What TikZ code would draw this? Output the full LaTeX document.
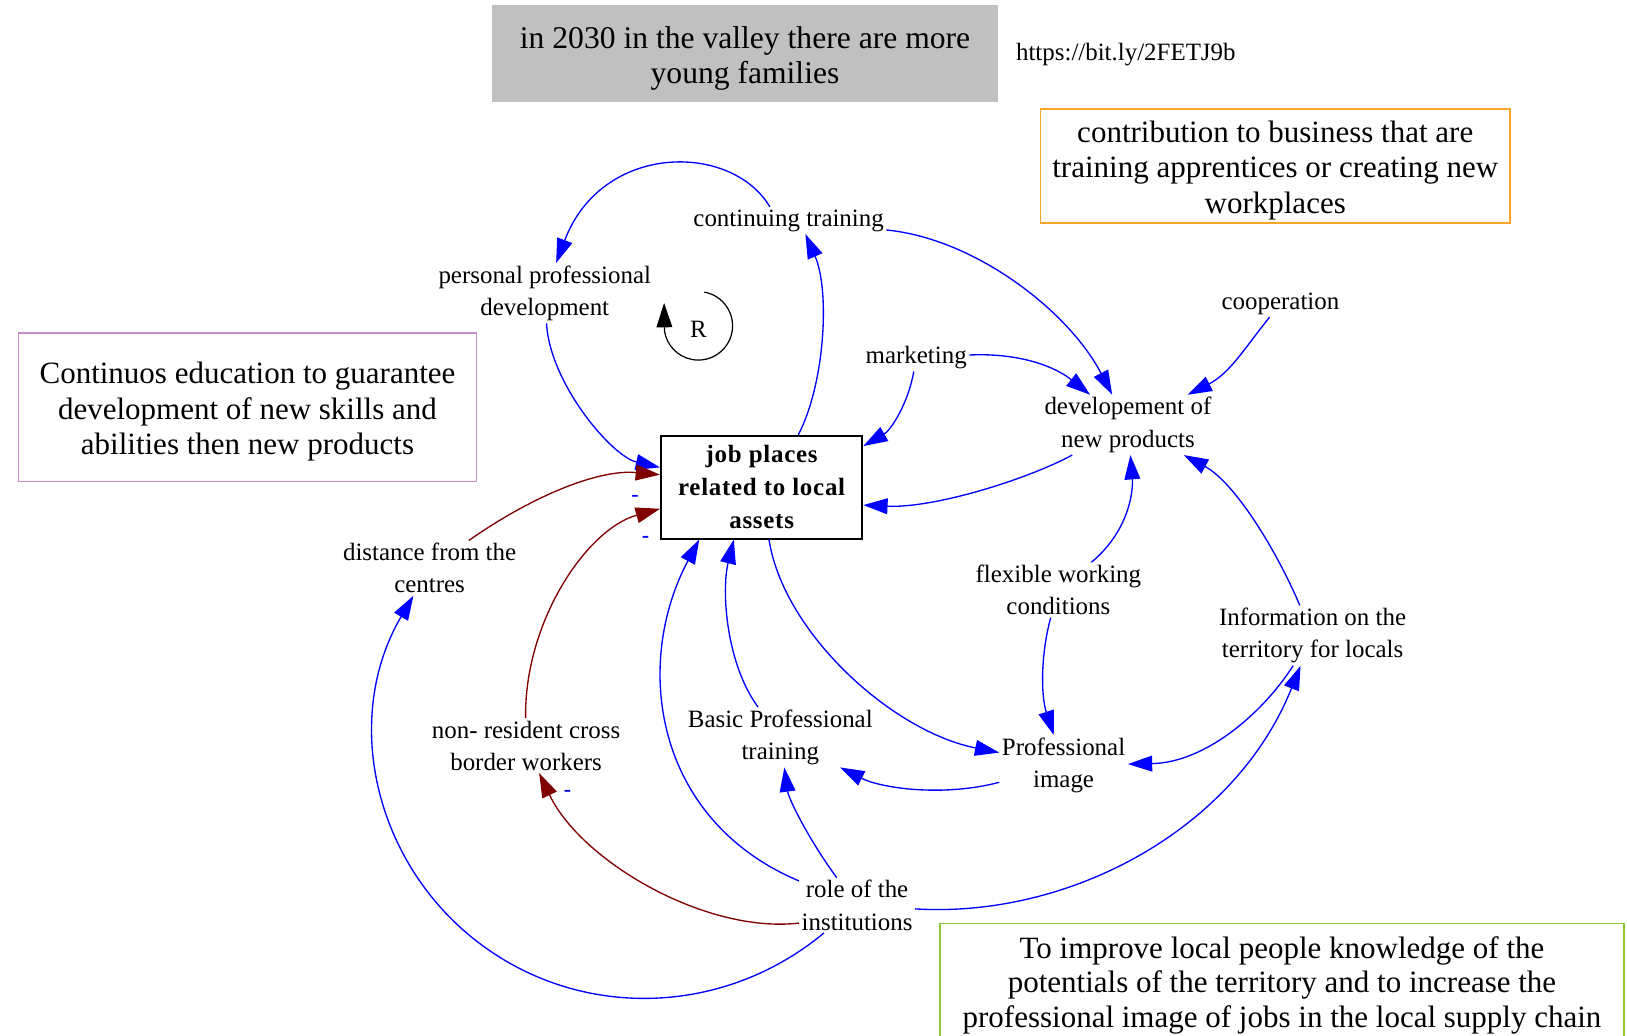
\documentclass[tikz,border=0pt]{standalone}
\usepackage{fontspec}
\setmainfont{Liberation Serif}
\newfontfamily\jobfont{Liberation Serif}[LetterSpace=3]
\usetikzlibrary{arrows.meta}
\definecolor{edgeblue}{RGB}{0,0,255}
\definecolor{edgebrown}{RGB}{128,0,0}
\definecolor{boxgray}{RGB}{192,192,192}
\definecolor{boxorange}{RGB}{250,165,40}
\definecolor{boxpurple}{RGB}{200,140,200}
\definecolor{boxgreen}{RGB}{140,200,50}
\begin{document}
\begin{tikzpicture}[x=0.03cm,y=-0.03cm,
  lbl/.style={align=center,inner sep=2pt,yshift=-0.075cm,font=\fontsize{20.5}{26.4}\selectfont},
  notebox/.style={inner sep=0pt,line width=1.2pt},
  notetext/.style={align=center,inner sep=0pt,font=\fontsize{25.5}{29.2}\selectfont},
  minus/.style={inner sep=0pt,text=edgeblue,font=\bfseries\fontsize{18}{18}\selectfont},
  blueedge/.style={draw=edgeblue,line width=1.1pt,-{Triangle[length=20pt,width=13pt]}},
  brownedge/.style={draw=edgebrown,line width=1.1pt,-{Triangle[length=20pt,width=13pt]}}
  ]
\useasboundingbox (0,0) rectangle (1568,997.5);

% note boxes
\node[notebox,fill=boxgray,minimum width=14.64cm,minimum height=2.79cm] (goal) at (718,51.5) {};
\node[notetext,font=\fontsize{26}{29}\selectfont] (goaltext) at (718,56.5) {in 2030 in the valley there are more\\young families};
\node[lbl] (url) at (1085,50) {https://bit.ly/2FETJ9b};
\node[notebox,draw=boxorange,minimum width=13.56cm,minimum height=3.3cm] (contrib) at (1229,160) {};
\node[notetext] (contribtext) at (1229,164) {contribution to business that are\\training apprentices or creating new\\workplaces};
\node[notebox,draw=boxpurple,minimum width=13.23cm,minimum height=4.29cm] (contedu) at (238.5,392.5) {};
\node[notetext] (contedutext) at (238.5,397) {Continuos education to guarantee\\development of new skills and\\abilities then new products};
\node[notebox,draw=boxgreen,minimum width=19.77cm,minimum height=3.42cm] (improve) at (1235.5,947) {};
\node[notetext,font=\fontsize{25.5}{28.6}\selectfont] (improvetext) at (1235.5,949.5) {To improve local people knowledge of the\\potentials of the territory and to increase the\\professional image of jobs in the local supply chain};

% main node
\node[draw=black,line width=1.6pt,fill=white,minimum width=5.82cm,minimum height=2.97cm,align=center,inner sep=0pt,font=\jobfont\bfseries\fontsize{20.5}{27.2}\selectfont] (job) at (734,469.5) {job places\\related to local\\assets};

% variables
\node[lbl] (ct) at (760,210) {continuing training};
\node[lbl] (ppd) at (525,280) {personal professional\\development};
\node[lbl] (R) at (673,315) {R};
\node[lbl] (mkt) at (883,342) {marketing};
\node[lbl] (coop) at (1234,290) {cooperation};
\node[lbl] (dnp) at (1087,407) {developement of\\new products};
\node[lbl] (flex) at (1020,566) {flexible working\\conditions};
\node[lbl] (info) at (1265,610) {Information on the\\territory for locals};
\node[lbl] (dist) at (414,545) {distance from the\\centres};
\node[lbl] (nonres) at (507,716) {non- resident cross\\border workers};
\node[lbl] (basic) at (752,708) {Basic Professional\\training};
\node[lbl] (pimg) at (1025,735) {Professional\\image};
\node[lbl] (role) at (826,870) {role of the\\institutions};

% polarity signs
\node[minus] (m1) at (612,480) {-};
\node[minus] (m2) at (622,520) {-};
\node[minus] (m3) at (547,765) {-};

% loop marker
\begin{scope}[shift={(673,314)},x=0.03cm,y=0.03cm]
\draw[line width=1pt,-{Triangle[length=20pt,width=13pt]}] (80:33) arc[start angle=80,end angle=-172,radius=33] -- (-33,22);
\end{scope}

% connectors
\draw[blueedge] (ct.144) .. controls (705,137) and (580,137) .. (ppd);
\draw[blueedge] (ppd) .. controls (530,370) and (590,440) .. (job.169);
\draw[blueedge] (job.55) .. controls (795,370) and (800,280) .. (ct.321);
\draw[blueedge] (ct) .. controls (940,230) and (1030,300) .. (dnp);
\draw[blueedge] (mkt) .. controls (980,340) and (1015,352) .. (dnp);
\draw[blueedge] (mkt) .. controls (875,390) and (858,415) .. (job.22);
\draw[blueedge] (coop) .. controls (1200,335) and (1185,360) .. (dnp);
\draw[blueedge] (dnp) .. controls (990,462) and (900,490) .. (job.350);
\draw[blueedge] (flex) .. controls (1090,510) and (1092,470) .. (dnp);
\draw[blueedge] (info) .. controls (1230,530) and (1190,465) .. (dnp);
\draw[blueedge] (flex) .. controls (1003,630) and (1003,670) .. (pimg);
\draw[blueedge] (info) .. controls (1215,690) and (1160,735) .. (pimg);
\draw[blueedge] (role) .. controls (1030,885) and (1190,800) .. (info);
\draw[brownedge] (dist) .. controls (510,480) and (575,452) .. (job.173);
\draw[brownedge] (nonres) .. controls (505,600) and (565,510) .. (job.192);
\draw[blueedge] (role) .. controls (630,790) and (610,640) .. (job.220);
\draw[blueedge] (basic) .. controls (700,640) and (695,570) .. (job.242);
\draw[blueedge] (role) .. controls (780,810) and (760,770) .. (basic);
\draw[brownedge] (role.197) .. controls (680,900) and (560,830) .. (nonres);
\coordinate (via) at (458.7,906.5);
\draw[blueedge] (role) .. controls (696.7,980.1) and (557.5,983.7) .. (via) .. controls (359.9,829.3) and (329.6,691.3) .. (dist);
\draw[blueedge] (job.278) .. controls (755,610) and (860,705) .. (pimg);
\draw[blueedge] (pimg) .. controls (910,768) and (850,760) .. (basic);
\end{tikzpicture}
\end{document}
